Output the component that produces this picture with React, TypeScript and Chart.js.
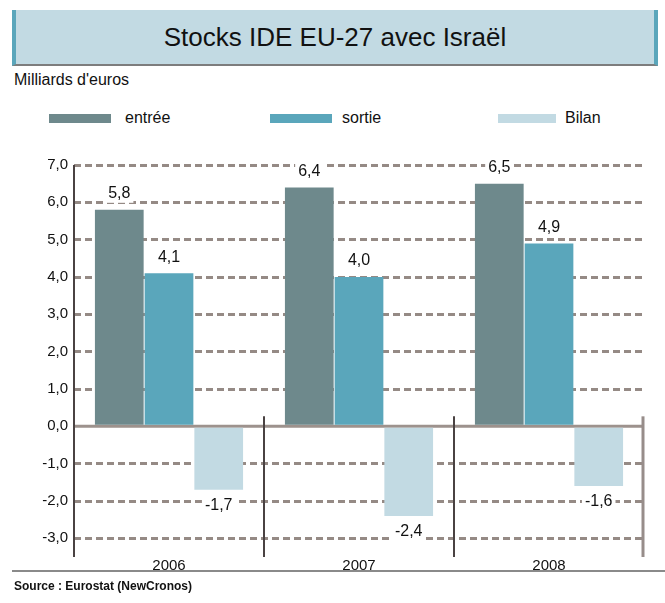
import React, { useEffect, useRef } from "react";
import { Chart, registerables } from "chart.js";

Chart.register(...registerables);

const categories = ["2006", "2007", "2008"];
const entree = [5.8, 6.4, 6.5];
const sortie = [4.1, 4.0, 4.9];
const bilan = [-1.7, -2.4, -1.6];
const seriesNames = ["entrée", "sortie", "Bilan"];
const seriesColors = ["#6e898c", "#5aa6bb", "#c2dae3"];

const FONT = "'Liberation Sans', Arial, sans-serif";

const fmt = (v: number) => v.toFixed(1).replace(".", ",");

const decorPlugin = {
  id: "decor",
  beforeDatasetsDraw(chart: any) {
    const { ctx, chartArea, scales } = chart;
    const y = scales.y;
    const y0 = y.getPixelForValue(0);
    ctx.save();
    ctx.strokeStyle = "#9d928d";
    ctx.lineWidth = 3;
    ctx.beginPath();
    ctx.moveTo(chartArea.left, y0);
    ctx.lineTo(chartArea.right, y0);
    ctx.stroke();
    ctx.restore();
  },
  afterDatasetsDraw(chart: any) {
    const { ctx, chartArea, scales } = chart;
    const y = scales.y;
    const x = scales.x;
    const y0 = y.getPixelForValue(0);
    ctx.save();
    // y axis line
    ctx.strokeStyle = "#4a4242";
    ctx.lineWidth = 2;
    ctx.beginPath();
    ctx.moveTo(chartArea.left, chartArea.top);
    ctx.lineTo(chartArea.left, chartArea.bottom);
    ctx.stroke();
    // category separators
    const n = categories.length;
    const step = x.getPixelForValue(1) - x.getPixelForValue(0);
    for (let i = 1; i <= n; i++) {
      const last = i === n;
      const px = last ? chartArea.right - 1 : x.getPixelForValue(i - 1) + step / 2;
      ctx.strokeStyle = last ? "#978d8a" : "#4a4242";
      ctx.lineWidth = last ? 3 : 2;
      ctx.beginPath();
      ctx.moveTo(px, y0 - 10);
      ctx.lineTo(px, chartArea.bottom);
      ctx.stroke();
    }
    // value labels
    ctx.font = `16px ${FONT}`;
    ctx.textAlign = "center";
    ctx.textBaseline = "middle";
    chart.data.datasets.forEach((ds: any, di: number) => {
      const meta = chart.getDatasetMeta(di);
      meta.data.forEach((bar: any, i: number) => {
        const v = ds.data[i];
        const t = fmt(v);
        const ty = v >= 0 ? bar.y - 16 : bar.y + 16;
        const w = ctx.measureText(t).width;
        ctx.fillStyle = "#ffffff";
        ctx.fillRect(bar.x - w / 2 - 3, ty - 9, w + 6, 18);
        ctx.fillStyle = "#111111";
        ctx.fillText(t, bar.x, ty);
      });
    });
    ctx.restore();
  },
};

function ChartBox() {
  const ref = useRef<HTMLCanvasElement | null>(null);
  useEffect(() => {
    if (!ref.current) return;
    const data = [entree, sortie, bilan];
    const chart = new Chart(ref.current, {
      type: "bar",
      data: {
        labels: categories,
        datasets: data.map((d, i) => ({
          label: seriesNames[i],
          data: d,
          backgroundColor: seriesColors[i],
          borderWidth: 0,
          barPercentage: 0.98,
          categoryPercentage: 0.785,
        })),
      },
      options: {
        animation: false,
        responsive: false,
        maintainAspectRatio: false,
        layout: { padding: { left: 0, right: 21, top: 25, bottom: 0 } },
        plugins: {
          legend: { display: false },
          tooltip: { enabled: false },
          title: { display: false },
        },
        scales: {
          x: {
            grid: { display: false, drawTicks: false },
            border: { display: false },
            ticks: {
              padding: 0,
              color: "#111111",
              font: { family: FONT, size: 15 },
            },
            afterFit(scale: any) {
              scale.height = 23;
            },
          },
          y: {
            min: -3.5,
            max: 7,
            ticks: {
              stepSize: 1,
              padding: 6,
              color: "#111111",
              font: { family: FONT, size: 15 },
              callback: (v: any) => fmt(Number(v)),
            },
            afterBuildTicks(scale: any) {
              scale.ticks = scale.ticks.filter((t: any) => Number.isInteger(Math.round(t.value * 1000) / 1000));
            },
            afterFit(scale: any) {
              scale.width = 74;
            },
            grid: {
              drawTicks: false,
              lineWidth: 3,
              color: (c: any) => (c.tick && c.tick.value === 0 ? "rgba(0,0,0,0)" : "#958a85"),
            },
            border: { display: false, dash: [7, 4] as any },
          },
        },
      },
      plugins: [decorPlugin],
    });
    return () => chart.destroy();
  }, []);
  return <canvas ref={ref} width={665} height={440} style={{ position: "absolute", left: 0, top: 140, width: 665, height: 440 }} />;
}

export default function App() {
  const legendPos = [
    { sx: 49, tx: 125, w: 62 },
    { sx: 270, tx: 342, w: 62 },
    { sx: 498, tx: 565, w: 58 },
  ];
  return (
    <div style={{ position: "absolute", left: 0, top: 0, width: 665, height: 603, background: "#fff", fontFamily: FONT, color: "#111" }}>
      <div
        style={{
          position: "absolute",
          left: 12,
          top: 10,
          width: 646,
          height: 56,
          background: "#c2dae3",
          borderLeft: "4px solid #5aa6bb",
          borderRight: "4px solid #5aa6bb",
          borderBottom: "2px solid #7d7d7d",
          boxSizing: "border-box",
          display: "flex",
          alignItems: "center",
          justifyContent: "center",
          fontSize: 26,
        }}
      >
        Stocks IDE EU-27 avec Israël
      </div>
      <div style={{ position: "absolute", left: 14, top: 70, fontSize: 16, lineHeight: "20px" }}>Milliards d'euros</div>
      {seriesNames.map((n, i) => (
        <React.Fragment key={n}>
          <div style={{ position: "absolute", left: legendPos[i].sx, top: 114, width: legendPos[i].w, height: 9, background: seriesColors[i] }} />
          <div style={{ position: "absolute", left: legendPos[i].tx, top: 108, fontSize: 16, lineHeight: "20px" }}>{n}</div>
        </React.Fragment>
      ))}
      <ChartBox />
      <div style={{ position: "absolute", left: 12, top: 570, width: 653, height: 2, background: "#8a8a8a" }} />
      <div style={{ position: "absolute", left: 14, top: 578, fontSize: 12, fontWeight: "bold", lineHeight: "16px" }}>
        Source : Eurostat (NewCronos)
      </div>
    </div>
  );
}
